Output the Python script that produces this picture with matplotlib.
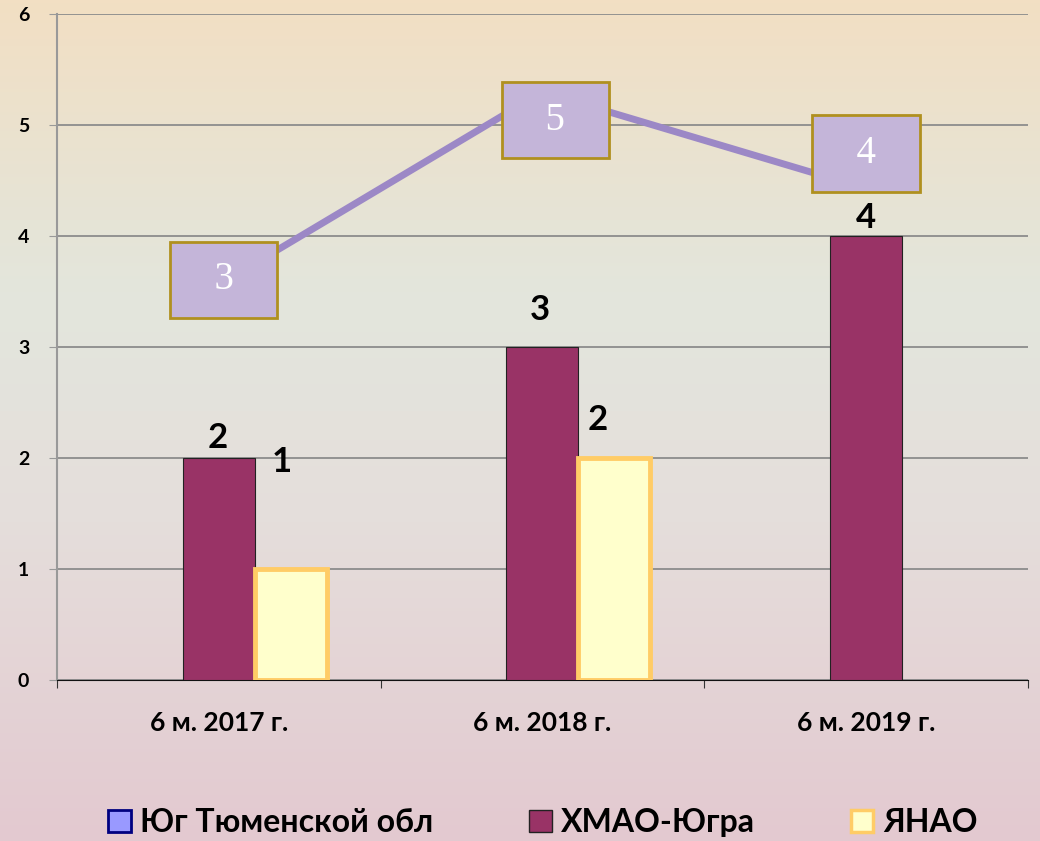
import matplotlib.pyplot as plt
import numpy as np
from matplotlib.colors import LinearSegmentedColormap
from matplotlib.patches import Patch

# Данные
periods = ["6 м. 2017 г.", "6 м. 2018 г.", "6 м. 2019 г."]
yug = [3, 5, 4]          # Юг Тюменской обл (линия)
hmao = [2, 3, 4]         # ХМАО-Югра
yanao = [1, 2, 0]        # ЯНАО

plt.rcParams['font.family'] = ['Lato', 'DejaVu Sans']
WT = "bold"

fig = plt.figure(figsize=(10.4, 8.41), dpi=100)

# фон-градиент
bg = fig.add_axes([0, 0, 1, 1], zorder=-10)
cmap = LinearSegmentedColormap.from_list(
    "bg", [(0, "#f2dfc3"), (0.26, "#e6e4d6"), (0.36, "#e3e6dd"),
           (0.62, "#e5dedb"), (1, "#e3c9d0")])
bg.imshow(np.linspace(0, 1, 256).reshape(-1, 1), aspect="auto", cmap=cmap,
          extent=[0, 1, 0, 1])
bg.axis("off")

ax = fig.add_axes([0.0548, 0.1914, 0.9332, 0.792])
ax.patch.set_alpha(0)

x = np.arange(len(periods))
w = 0.223
ax.bar(x, hmao, w, color="#993366", edgecolor="#222222", linewidth=0.8, zorder=3)
ax.bar(x + w, yanao, w, color="#ffffcc", edgecolor="#ffcc66",
       linewidth=[3.5 if v else 0 for v in yanao], zorder=3)

ax.set_xlim(-0.5, 2.5)
ax.set_ylim(0, 6)
ax.set_yticks(range(0, 7))
ax.set_xticks([-0.5, 0.5, 1.5, 2.5], minor=False, labels=[])
ax.set_xticks(x, labels=periods, minor=True)
ax.tick_params(axis="x", which="minor", length=0, pad=22, labelsize=19)
ax.tick_params(axis="x", which="major", length=6, direction="out", color="#333333")
ax.tick_params(axis="y", length=6, color="#999999", labelsize=14, pad=14)
for lab in ax.get_xticklabels(minor=True) + ax.get_yticklabels():
    lab.set_fontweight(WT)
ax.grid(axis="y", color="#8c8c8c", linewidth=1.3, zorder=0)
for s in ["top", "right"]:
    ax.spines[s].set_visible(False)
ax.spines["left"].set_color("#999999")
ax.spines["left"].set_linewidth(1.5)
ax.spines["bottom"].set_color("#111111")

# подписи столбцов
hmao_off = [(-1, 20), (-2, 37), (0, 18)]
yanao_off = [(-9, 107), (-17, 38), (0, 0)]
for i in range(len(periods)):
    ax.annotate(str(hmao[i]), (x[i], hmao[i]), xytext=hmao_off[i],
                textcoords="offset pixels", ha="center", va="center",
                fontsize=25, fontweight=WT, zorder=5)
    if yanao[i]:
        ax.annotate(str(yanao[i]), (x[i] + w, yanao[i]), xytext=yanao_off[i],
                    textcoords="offset pixels", ha="center", va="center",
                    fontsize=25, fontweight=WT, zorder=5)

# линия на вспомогательной оси
ax2 = ax.twinx()
ax2.set_ylim(-1.0955, 5.809)
ax2.set_axis_off()
ax2.plot(x, yug, color="#9c88c6", linewidth=5, zorder=2)
box_off = [(5, 5), (13, -28), (0, 35)]
for i in range(len(periods)):
    ax2.annotate("  " + str(yug[i]) + "  ", (x[i], yug[i]), xytext=box_off[i],
                 textcoords="offset pixels", ha="center", va="center",
                 fontsize=28, color="white", family="Liberation Serif",
                 bbox=dict(boxstyle="square,pad=0.63", mutation_aspect=0.81,
                           fc="#c4b5d9", ec="#b0901f", lw=2), zorder=6)

handles = [Patch(fc="#9999ff", ec="#000080", lw=2),
           Patch(fc="#993366", ec="#222222", lw=1),
           Patch(fc="#ffffcc", ec="#ffcc66", lw=2.5)]
fig.legend(handles, ["Юг Тюменской обл", "ХМАО-Югра", "ЯНАО"], loc="center",
           bbox_to_anchor=(0.522, 0.022), ncol=3, frameon=False,
           prop={"weight": WT, "size": 23}, handlelength=0.7,
           handleheight=0.7, handletextpad=0.3, columnspacing=3.0)

fig.savefig("out.png", dpi=100)
